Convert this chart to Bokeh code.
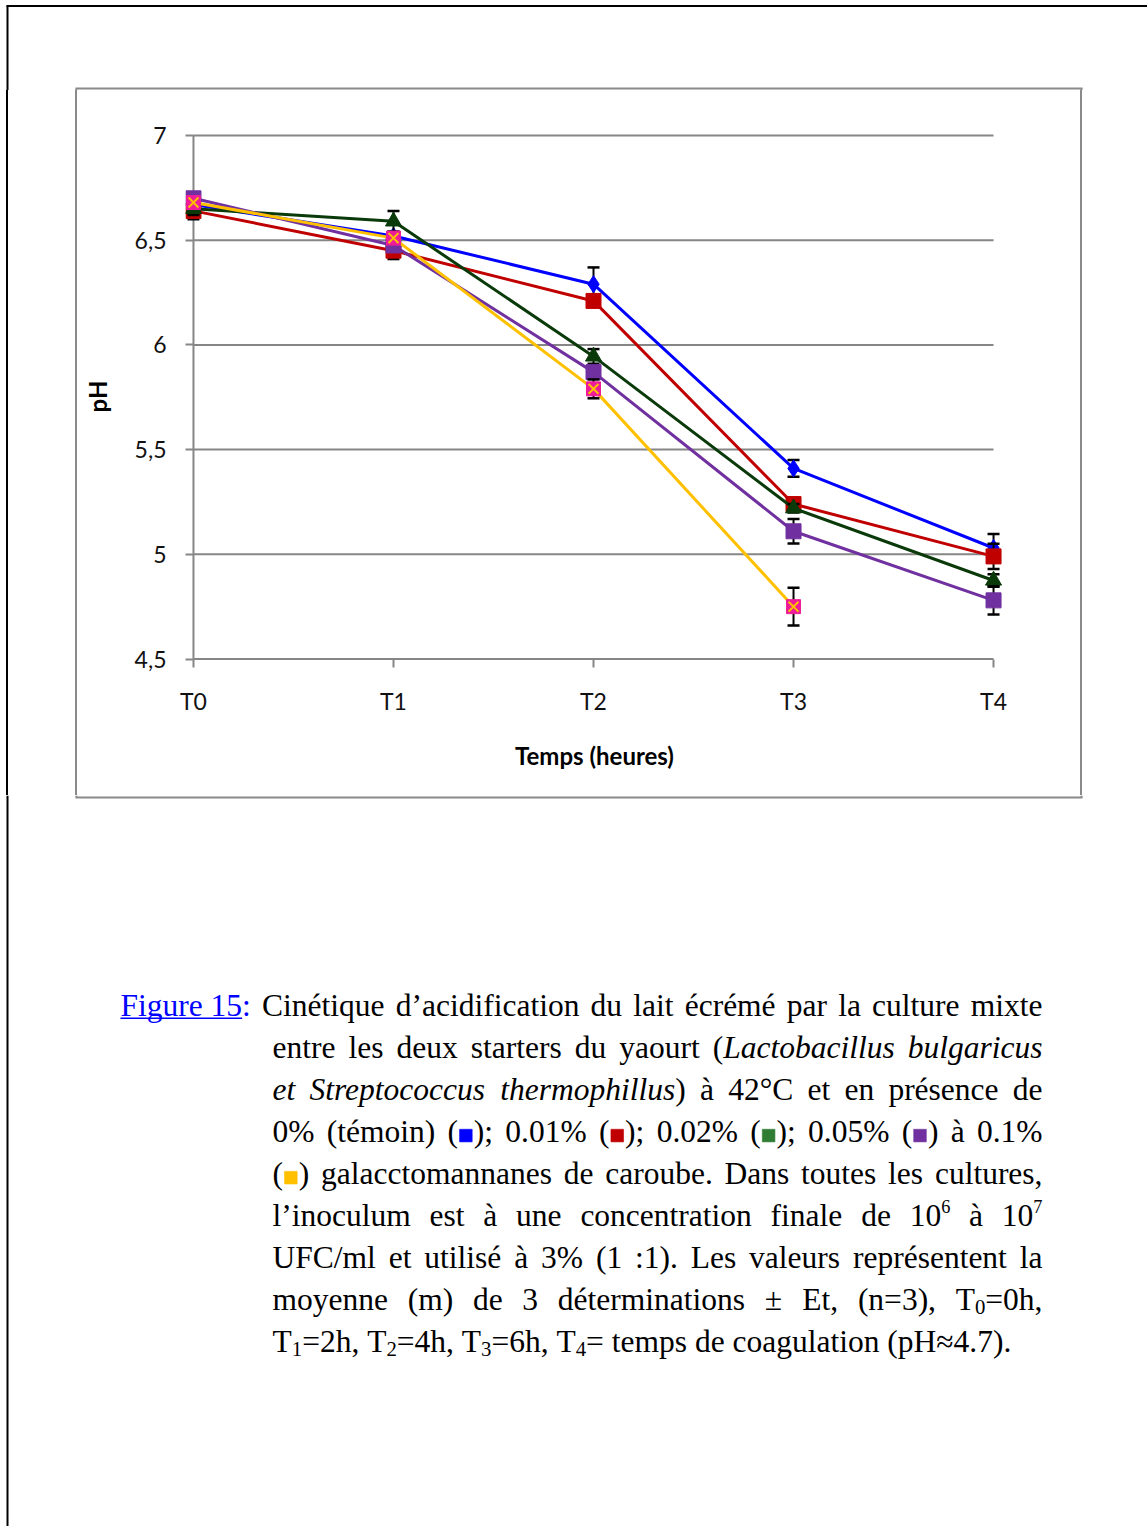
from bokeh.plotting import figure
from bokeh.models import Range1d, FixedTicker, ColumnDataSource, Div
from bokeh.layouts import column, row
from bokeh.embed import file_html
from bokeh.resources import INLINE
from bokeh.core.properties import value

# ---------------- data ----------------
times = ["T0", "T1", "T2", "T3", "T4"]
t_idx = [0, 1, 2, 3, 4]
y_ticks = [4.5, 5.0, 5.5, 6.0, 6.5, 7.0]
y_tick_labels = ["4,5", "5", "5,5", "6", "6,5", "7"]

ph_0 = [6.67, 6.52, 6.29, 5.41, 5.03]      # témoin (blue)
err_0 = [0.02, 0.02, 0.08, 0.04, 0.067]
ph_001 = [6.64, 6.45, 6.21, 5.24, 4.99]    # 0.01 % (red)
err_001 = [0.04, 0.04, 0.02, 0.02, 0.06]
ph_002 = [6.65, 6.59, 5.945, 5.22, 4.875]  # 0.02 % (green)
err_002 = [0.03, 0.05, 0.035, 0.02, 0.03]
ph_005 = [6.70, 6.475, 5.87, 5.11, 4.78]   # 0.05 % (purple)
err_005 = [0.02, 0.03, 0.02, 0.058, 0.068]
ph_01 = [6.68, 6.51, 5.79, 4.75]           # 0.1 % (yellow), T0..T3
err_01 = [0.02, 0.02, 0.045, 0.09]

AX_GRAY = "#868686"
BOX_GRAY = "#8a8a8a"

# ---------------- helpers ----------------
def strip(w, h, x0, y0):
    f = figure(width=w, height=h, x_range=Range1d(x0, x0 + w), y_range=Range1d(y0 + h, y0),
               output_backend="svg", toolbar_location=None, min_border=0,
               x_axis_type=None, y_axis_type=None)
    f.outline_line_color = None
    f.background_fill_color = "white"
    f.border_fill_color = "white"
    return f

def seg(f, x0, y0, x1, y1, color, w):
    f.segment(x0=[x0], y0=[y0], x1=[x1], y1=[y1], line_color=color, line_width=w)

def line_div(w, h, rects):
    # rects: (x, y, width, height, colour) drawn as CSS background layers
    layers = ", ".join("linear-gradient(%s, %s)" % (c, c) for _, _, _, _, c in rects)
    sizes = ", ".join("%dpx %dpx" % (rw, rh) for _, _, rw, rh, _ in rects)
    poss = ", ".join("%dpx %dpx" % (rx, ry) for rx, ry, _, _, _ in rects)
    return Div(text="", width=w, height=h,
               styles={"background-color": "white", "background-image": layers,
                       "background-size": sizes, "background-position": poss,
                       "background-repeat": "no-repeat", "margin": "0", "padding": "0"})

PAGE_W, PAGE_H = 1147, 1526
PL = 7          # page left border x
BOX_L, BOX_R, BOX_T, BOX_B = 76, 1081, 88, 797
TOP_H = 90
MID_H = 705
LEFT_W = 79
CHART_W = 1000
RIGHT_W = PAGE_W - LEFT_W - CHART_W
BOT_H = PAGE_H - TOP_H - MID_H

# top strip
top = strip(PAGE_W, TOP_H, 0, 0)
seg(top, 6, 5.5, PAGE_W, 5.5, "black", 2)
seg(top, PL, 5, PL, TOP_H, "black", 2)
seg(top, BOX_L - 1, BOX_T, BOX_R + 1, BOX_T, BOX_GRAY, 2)
seg(top, BOX_L, BOX_T, BOX_L, TOP_H, BOX_GRAY, 2)
seg(top, BOX_R, BOX_T, BOX_R, TOP_H, BOX_GRAY, 2)

# left / right strips (plain blocks, so they are not frame-aligned with the chart)
lft = line_div(LEFT_W, MID_H, [(PL - 1, 0, 2, MID_H, "#000000"),
                               (BOX_L - 1, 0, 2, MID_H, BOX_GRAY)])
rgt = line_div(RIGHT_W, MID_H, [(BOX_R - (LEFT_W + CHART_W) - 1, 0, 2, MID_H, BOX_GRAY)])

# ---------------- chart ----------------
X0_PX, X4_PX = 190, 993
Y7_PX, Y45_PX = 135, 658.5
FR_L, FR_R, FR_T, FR_B = 182, 1003, 125, 667
pxx = (X4_PX - X0_PX) / (t_idx[-1] - t_idx[0])
pxy = (Y45_PX - Y7_PX) / (y_ticks[-1] - y_ticks[0])
x_lo = t_idx[0] - (X0_PX - FR_L) / pxx
x_hi = t_idx[-1] + (FR_R - X4_PX) / pxx
y_hi = y_ticks[-1] + (Y7_PX - FR_T) / pxy
y_lo = y_ticks[0] - (FR_B - Y45_PX) / pxy

p = figure(width=CHART_W, height=MID_H, x_range=Range1d(x_lo, x_hi), y_range=Range1d(y_lo, y_hi),
           output_backend="svg", toolbar_location=None,
           min_border_left=FR_L - LEFT_W, min_border_right=LEFT_W + CHART_W - FR_R,
           min_border_top=FR_T - TOP_H, min_border_bottom=TOP_H + MID_H - FR_B)
p.outline_line_color = None
p.grid.visible = False
p.background_fill_color = "white"
p.border_fill_color = "white"

for ax in (p.xaxis, p.yaxis):
    ax.axis_line_color = None
    ax.major_tick_in = 8
    ax.major_tick_out = 0
    ax.minor_tick_line_color = None
    ax.major_tick_line_color = AX_GRAY
    ax.major_tick_line_width = 2
    ax.major_label_text_font = "Lato"
    ax.major_label_text_font_size = "23px"
    ax.major_label_text_color = "#111111"
    ax.axis_label_text_font = "Lato"
    ax.axis_label_text_font_size = "24px"
    ax.axis_label_text_font_style = "bold"
    ax.axis_label_text_color = "black"

p.xaxis.ticker = FixedTicker(ticks=t_idx)
p.xaxis.major_label_overrides = {i: t for i, t in zip(t_idx, times)}
p.xaxis.major_label_standoff = 19
p.xaxis.axis_label = "Temps (heures)"
p.xaxis.axis_label_standoff = 23

p.yaxis.ticker = FixedTicker(ticks=y_ticks)
p.yaxis.major_label_overrides = {t: l for t, l in zip(y_ticks, y_tick_labels)}
p.yaxis.major_label_standoff = 19
p.yaxis.axis_label = "pH"
p.yaxis.axis_label_standoff = 20

# gridlines and axis lines
grid_y = y_ticks[1:]
p.segment(x0=[t_idx[0]] * len(grid_y), x1=[t_idx[-1]] * len(grid_y), y0=grid_y, y1=grid_y,
          line_color=AX_GRAY, line_width=2)
p.segment(x0=[t_idx[0]], x1=[t_idx[-1]], y0=[y_ticks[0]], y1=[y_ticks[0]], line_color=AX_GRAY, line_width=2)
p.segment(x0=[t_idx[0]], x1=[t_idx[0]], y0=[y_ticks[0]], y1=[y_ticks[-1]], line_color=AX_GRAY, line_width=2)

series = [
    (ph_0, err_0, "#0000FF", "diamond", 17),
    (ph_001, err_001, "#C00000", "square", 15),
    (ph_002, err_002, "#0A3A0A", "triangle", 16),
    (ph_005, err_005, "#7030A0", "square", 15),
    (ph_01, err_01, "#FFC000", "square", 14),
]
PINK = "#EE1C98"
for vals, errs, color, marker, msize in series:
    xs = t_idx[:len(vals)]
    src = ColumnDataSource(dict(x=xs, y=vals,
                                lo=[v - e for v, e in zip(vals, errs)],
                                hi=[v + e for v, e in zip(vals, errs)]))
    p.line("x", "y", source=src, line_color=color, line_width=3)
    p.segment(x0="x", y0="lo", x1="x", y1="hi", source=src, line_color="black", line_width=2)
    p.scatter("x", "lo", source=src, marker="dash", size=12, line_color="black", line_width=2.5)
    p.scatter("x", "hi", source=src, marker="dash", size=12, line_color="black", line_width=2.5)
    if color == "#FFC000":
        p.scatter("x", "y", source=src, marker="square", size=msize, fill_color=PINK, line_color=PINK)
        p.scatter("x", "y", source=src, marker="x", size=msize, line_color=color, line_width=2)
    else:
        p.scatter("x", "y", source=src, marker=marker, size=msize, fill_color=color, line_color=color)

# ---------------- caption ----------------
bot = strip(PAGE_W, BOT_H, 0, TOP_H + MID_H)
seg(bot, PL, TOP_H + MID_H, PL, PAGE_H, "black", 2)
seg(bot, BOX_L, TOP_H + MID_H, BOX_L, BOX_B, BOX_GRAY, 2)
seg(bot, BOX_R, TOP_H + MID_H, BOX_R, BOX_B, BOX_GRAY, 2)
seg(bot, BOX_L - 1, BOX_B, BOX_R + 1, BOX_B, BOX_GRAY, 2)

caption_lines = [
    [("Figure\u00a015", "link"), (":", "linkc"), (" Cinétique d’acidification du lait écrémé par la culture mixte", "n")],
    [("entre les deux starters du yaourt (", "n"), ("Lactobacillus bulgaricus", "i")],
    [("et Streptococcus thermophillus", "i"), (") à 42°C et en présence de", "n")],
    [("0% (témoin) (", "n"), ("#0000FF", "sq"), ("); 0.01% (", "n"), ("#C00000", "sq"),
     ("); 0.02% (", "n"), ("#2E7D32", "sq"), ("); 0.05% (", "n"), ("#7030A0", "sq"), (") à 0.1%", "n")],
    [("(", "n"), ("#FFC000", "sq"), (") galacctomannanes de caroube. Dans toutes les cultures,", "n")],
    [("l’inoculum est à une concentration finale de 10", "n"), ("6", "sup"), (" à 10", "n"), ("7", "sup")],
    [("UFC/ml et utilisé à 3% (1 :1). Les valeurs représentent la", "n")],
    [("moyenne (m) de 3 déterminations ± Et, (n=3), T", "n"), ("0", "sub"), ("=0h,", "n")],
    [("T", "n"), ("1", "sub"), ("=2h, T", "n"), ("2", "sub"), ("=4h, T", "n"), ("3", "sub"),
     ("=6h, T", "n"), ("4", "sub"), ("= temps de coagulation (pH≈4.7).", "n")],
]

F = 31.5
SUP, SUB = 0.58, 0.66
BASE0, LEAD = 1014.3, 42.1
TXT_OFF = 0.31          # rendered baseline sits this many ems below the given y
LEFT1, LEFT, RIGHT = 120, 272, 1042

REG = dict(zip("abcdefghijklmnopqrstuvwxyz",
               [.444, .5, .444, .5, .444, .333, .5, .5, .278, .278, .5, .278, .778, .5, .5, .5, .5,
                .333, .389, .278, .5, .5, .722, .5, .5, .444]))
REG.update(dict(zip("ABCDEFGHIJKLMNOPQRSTUVWXYZ",
                    [.722, .667, .667, .722, .611, .556, .722, .722, .333, .389, .722, .611, .889,
                     .722, .722, .556, .722, .667, .556, .611, .722, .722, .944, .722, .722, .611])))
REG.update({c: .5 for c in "0123456789"})
REG.update({" ": .25, "\u00a0": .25, ".": .25, ",": .25, ":": .278, ";": .278, "(": .333, ")": .333,
            "%": .833, "’": .333, "/": .278, "=": .564, "±": .564, "≈": .549, "°": .4,
            "é": .444, "è": .444, "à": .444, "ç": .444})
ITAL = dict(REG)
ITAL.update(dict(zip("abcdefghijklmnopqrstuvwxyz",
                     [.5, .5, .444, .5, .444, .278, .5, .5, .278, .278, .444, .278, .722, .5, .5, .5,
                      .5, .389, .389, .278, .5, .444, .667, .444, .444, .389])))
ITAL.update({"L": .556, "S": .5})


def fsize(st):
    return F * (SUP if st == "sup" else SUB if st == "sub" else 1.0)


def piece_w(txt, st):
    if st == "sq":
        return 0.5 * F
    tbl = ITAL if st == "i" else REG
    return sum(tbl.get(c, 0.5) for c in txt) * fsize(st)


def words_of(line):
    words, cur = [], []
    for txt, st in line:
        if st == "sq":
            cur.append((txt, st))
            continue
        parts = txt.split(" ")
        for k, part in enumerate(parts):
            if k > 0 and cur:
                words.append(cur)
                cur = []
            if part:
                cur.append((part, st))
    if cur:
        words.append(cur)
    return words


pieces = {k: dict(x=[], y=[], text=[]) for k in ("n", "i", "link", "linkc", "sup", "sub")}
squares = dict(x=[], y=[], color=[])
underlines = []
for li, line in enumerate(caption_lines):
    base = BASE0 + li * LEAD
    left = LEFT1 if li == 0 else LEFT
    ws = words_of(line)
    widths = [sum(piece_w(t, s) for t, s in w) for w in ws]
    if li == len(caption_lines) - 1:
        gap = 0.25 * F
    else:
        gap = (RIGHT - left - sum(widths)) / (len(ws) - 1)
    x = left
    for w, ww in zip(ws, widths):
        px = x
        for t, s in w:
            pw = piece_w(t, s)
            if s == "sq":
                squares["x"].append(px + pw / 2)
                squares["y"].append(base - 0.175 * F)
                squares["color"].append(t)
            else:
                yy = base
                if s == "sup":
                    yy = base - 0.42 * F
                elif s == "sub":
                    yy = base + 0.12 * F
                pieces[s]["x"].append(px)
                pieces[s]["y"].append(yy - TXT_OFF * fsize(s))
                pieces[s]["text"].append(t)
                if s == "link":
                    underlines.append((px, px + pw, base + 3.5))
            px += pw
        x += ww + gap

SERIF = value("Liberation Serif")
styles = {
    "n": ("normal", "black"),
    "i": ("italic", "black"),
    "link": ("normal", "#0000FF"),
    "linkc": ("normal", "#0000FF"),
    "sup": ("normal", "black"),
    "sub": ("normal", "black"),
}
for k, d in pieces.items():
    if not d["x"]:
        continue
    fstyle, fcolor = styles[k]
    bot.text(x="x", y="y", text="text", source=ColumnDataSource(d), text_font=SERIF,
             text_font_size=value("%.1fpx" % fsize(k)), text_font_style=fstyle,
             text_color=fcolor, text_align="left", text_baseline="alphabetic")
for x0, x1, yy in underlines:
    seg(bot, x0, yy, x1, yy, "#0000FF", 1.5)
bot.rect(x="x", y="y", width=0.4 * F, height=0.4 * F, fill_color="color", line_color="color",
         line_alpha=0.6, source=ColumnDataSource(squares))

layout = column(top, row(lft, p, rgt), bot)
html = file_html(layout, INLINE, title="Figure 15")
html = html.replace("<body>", '<body style="margin:0;padding:0;">', 1)
open("out.html", "w").write(html)
